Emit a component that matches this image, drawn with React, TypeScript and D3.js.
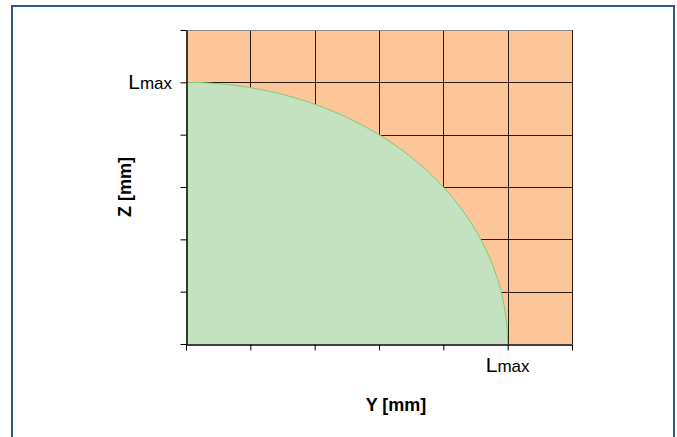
import { useEffect, useRef } from 'react';
import * as d3 from 'd3';

// Grid divisions along both axes (0..6), Lmax sits at division 5
const yTicks = [0, 1, 2, 3, 4, 5, 6];
const zTicks = [0, 1, 2, 3, 4, 5, 6];
const lmax = 5;
const xTitle = 'Y [mm]';
const yTitle = 'Z [mm]';

export default function App() {
  const svgRef = useRef<SVGSVGElement>(null);

  useEffect(() => {
    if (!svgRef.current) return;
    const width = 677;
    const height = 437;
    const margin = { top: 30, right: 105, bottom: 93, left: 186 };

    const svg = d3.select(svgRef.current);
    svg.selectAll('*').remove();
    svg.attr('width', width).attr('height', height);

    // outer frame
    svg.append('rect')
      .attr('x', 12).attr('y', 6)
      .attr('width', 662).attr('height', 450)
      .attr('fill', '#fff')
      .attr('stroke', '#2c5a88')
      .attr('stroke-width', 2);

    const x = d3.scaleLinear().domain([0, 6]).range([margin.left, width - margin.right]);
    const y = d3.scaleLinear().domain([0, 6]).range([height - margin.bottom, margin.top]);

    svg.append('defs').append('clipPath').attr('id', 'plot-clip')
      .append('rect')
      .attr('x', x(0)).attr('y', y(6))
      .attr('width', x(6) - x(0)).attr('height', y(0) - y(6));

    // orange background
    svg.append('rect')
      .attr('x', x(0)).attr('y', y(6))
      .attr('width', x(6) - x(0)).attr('height', y(0) - y(6))
      .attr('fill', '#fcc698');

    // grid
    const grid = svg.append('g');
    grid.selectAll('.vline')
      .data(yTicks.slice(1))
      .join('line')
      .attr('x1', d => Math.round(x(d)) + 0.5).attr('x2', d => Math.round(x(d)) + 0.5)
      .attr('y1', y(6)).attr('y2', y(0))
      .attr('stroke', '#2a1c14').attr('stroke-width', 1);
    grid.selectAll('.hline')
      .data(zTicks.slice(1, -1))
      .join('line')
      .attr('x1', x(0)).attr('x2', x(6))
      .attr('y1', d => Math.round(y(d)) + 0.5).attr('y2', d => Math.round(y(d)) + 0.5)
      .attr('stroke', '#2a1c14').attr('stroke-width', 1);
    grid.append('line')
      .attr('x1', x(0)).attr('x2', x(6))
      .attr('y1', Math.round(y(6)) + 0.5).attr('y2', Math.round(y(6)) + 0.5)
      .attr('stroke', '#8a8a8a').attr('stroke-width', 1);

    // green quarter ellipse up to Lmax
    svg.append('ellipse')
      .attr('clip-path', 'url(#plot-clip)')
      .attr('cx', x(0)).attr('cy', y(0))
      .attr('rx', x(lmax) - x(0)).attr('ry', y(0) - y(lmax))
      .attr('fill', '#c4e2c0')
      .attr('stroke', '#86c97a')
      .attr('stroke-width', 1);

    // axes
    const xAxis = svg.append('g')
      .attr('transform', `translate(0,${Math.round(y(0)) + 0.5})`)
      .call(d3.axisBottom(x).tickValues(yTicks).tickSize(6).tickSizeOuter(0).tickFormat(() => ''));
    xAxis.selectAll('line').attr('stroke', '#000');
    xAxis.select('.domain').attr('stroke', '#000').attr('stroke-width', 1.5);

    const yAxis = svg.append('g')
      .attr('transform', `translate(${Math.round(x(0)) + 0.5},0)`)
      .call(d3.axisLeft(y).tickValues(zTicks).tickSize(6).tickSizeOuter(0).tickFormat(() => ''));
    yAxis.selectAll('line').attr('stroke', '#000');
    yAxis.select('.domain').attr('stroke', '#000').attr('stroke-width', 1.5);

    // Lmax labels
    const lmaxLabel = (t: d3.Selection<SVGTextElement, unknown, null, undefined>) => {
      t.attr('font-family', 'Liberation Sans, Arial, sans-serif').attr('fill', '#000');
      t.append('tspan').attr('font-size', 21).text('L');
      t.append('tspan').attr('font-size', 17).text('max');
    };
    svg.append('text')
      .attr('x', x(lmax)).attr('y', y(0) + 28)
      .attr('text-anchor', 'middle')
      .call(lmaxLabel);
    svg.append('text')
      .attr('x', x(0) - 14).attr('y', y(lmax) + 7)
      .attr('text-anchor', 'end')
      .call(lmaxLabel);

    // axis titles
    svg.append('text')
      .attr('x', 396).attr('y', 411)
      .attr('text-anchor', 'middle')
      .attr('font-family', 'Liberation Sans, Arial, sans-serif')
      .attr('font-weight', 700)
      .attr('font-size', 18)
      .text(xTitle);
    svg.append('text')
      .attr('transform', `translate(131,${(y(0) + y(6)) / 2}) rotate(-90)`)
      .attr('text-anchor', 'middle')
      .attr('font-family', 'Liberation Sans, Arial, sans-serif')
      .attr('font-weight', 700)
      .attr('font-size', 18)
      .text(yTitle);
  }, []);

  return <svg ref={svgRef} style={{ position: 'absolute', left: 0, top: 0 }} />;
}
